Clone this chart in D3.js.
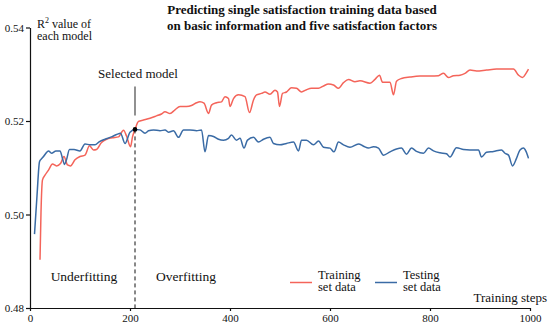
<!DOCTYPE html>
<html>
<head>
<meta charset="utf-8">
<script src="https://cdn.jsdelivr.net/npm/d3@7"></script>
<style>
body { margin: 0; background: #fff; }
svg text { font-family: "Liberation Serif", "Times New Roman", serif; fill: #111; }
</style>
</head>
<body>
<div id="chart"></div>
<script>
// training set curve (red)
const trainingSteps = [20, 22, 25, 30, 37, 45, 53, 61, 68, 75, 81, 90, 100, 110, 119, 127, 133, 143, 153, 165, 177, 187, 193, 201, 205, 210,
    217, 227, 240, 253, 263, 270, 280, 290, 300, 313, 323, 333, 340, 348, 357, 363, 373, 383, 390, 397, 400, 407, 417,
    430, 439, 447, 453, 463, 470, 480, 490, 495, 499, 505, 513, 523, 533, 543, 553, 563, 577, 587, 597, 607, 617, 627, 637,
    650, 660, 680, 690, 699, 705, 720, 727, 733, 743, 760, 780, 800, 817, 827, 837, 847, 860, 870, 880, 893, 913, 933, 947,
    967, 977, 985, 992, 997];
const trainingR2 = [0.4903, 0.5005, 0.5074, 0.5084, 0.5095, 0.5108, 0.5104, 0.5109, 0.5124, 0.5106, 0.5104, 0.5117, 0.5124, 0.5127, 0.5147, 0.5138, 0.5139, 0.5154, 0.5161, 0.5164, 0.5166, 0.5180, 0.5168, 0.5145, 0.5166, 0.5182,
    0.5199, 0.5202, 0.5206, 0.5211, 0.5215, 0.5220, 0.5216, 0.5224, 0.5231, 0.5231, 0.5233, 0.5239, 0.5241, 0.5238, 0.5216, 0.5234, 0.5239, 0.5241, 0.5252, 0.5248, 0.5231, 0.5248, 0.5256,
    0.5252, 0.5218, 0.5245, 0.5256, 0.5259, 0.5262, 0.5257, 0.5266, 0.5262, 0.5231, 0.5259, 0.5262, 0.5271, 0.5270, 0.5262, 0.5267, 0.5270, 0.5270, 0.5275, 0.5279, 0.5277, 0.5270, 0.5282, 0.5289,
    0.5284, 0.5286, 0.5281, 0.5289, 0.5298, 0.5283, 0.5283, 0.5256, 0.5285, 0.5291, 0.5294, 0.5296, 0.5296, 0.5297, 0.5302, 0.5293, 0.5297, 0.5298, 0.5302, 0.5309, 0.5307, 0.5309, 0.5311, 0.5311,
    0.5311, 0.5298, 0.5293, 0.5302, 0.5311];

// testing set curve (blue)
const testingSteps = [9, 14, 19, 22, 27, 37, 43, 52, 60, 65, 69, 73, 79, 88, 100, 110, 120, 130, 139, 150, 163, 173, 181, 190, 200, 210,
    220, 230, 237, 247, 260, 270, 277, 287, 297, 307, 320, 333, 343, 350, 357, 367, 377, 387, 397, 403, 413,
    420, 428, 435, 447, 457, 467, 480, 487, 500, 513, 527, 537, 543, 553, 567, 577, 587, 600, 608, 617, 627, 640,
    657, 667, 677, 687, 697, 707, 720, 733, 743, 753, 763, 773, 787, 797, 807, 820, 833, 840, 853, 867, 880, 897,
    903, 913, 927, 943, 950, 957, 965, 973, 980, 987, 992, 997];
const testingR2 = [0.4958, 0.5040, 0.5113, 0.5118, 0.5124, 0.5136, 0.5131, 0.5136, 0.5136, 0.5120, 0.5107, 0.5117, 0.5139, 0.5139, 0.5136, 0.5151, 0.5149, 0.5149, 0.5156, 0.5161, 0.5166, 0.5171, 0.5174, 0.5152, 0.5176, 0.5182,
    0.5181, 0.5174, 0.5179, 0.5181, 0.5179, 0.5181, 0.5176, 0.5179, 0.5165, 0.5181, 0.5181, 0.5179, 0.5181, 0.5134, 0.5169, 0.5167, 0.5161, 0.5159, 0.5163, 0.5170, 0.5159,
    0.5163, 0.5142, 0.5159, 0.5165, 0.5155, 0.5161, 0.5165, 0.5152, 0.5149, 0.5152, 0.5155, 0.5136, 0.5159, 0.5159, 0.5149, 0.5157, 0.5144, 0.5142, 0.5134, 0.5155, 0.5149, 0.5144,
    0.5151, 0.5146, 0.5142, 0.5145, 0.5142, 0.5127, 0.5134, 0.5140, 0.5142, 0.5129, 0.5142, 0.5135, 0.5131, 0.5142, 0.5136, 0.5132, 0.5130, 0.5123, 0.5143, 0.5139, 0.5138, 0.5138,
    0.5123, 0.5133, 0.5135, 0.5138, 0.5131, 0.5127, 0.5104, 0.5120, 0.5138, 0.5142, 0.5135, 0.5120];

const xTicks = [0, 200, 400, 600, 800, 1000];
const yTicks = [0.48, 0.50, 0.52, 0.54];
const selectedStep = 210;
const selectedR2 = 0.5182;
const seriesColors = { training: "#f4645a", testing: "#3a6ba5" };

const width = 550, height = 328;
const serif = "'Liberation Serif', 'Times New Roman', serif";

const svg = d3.select("#chart")
    .append("svg")
    .attr("width", width)
    .attr("height", height);

const xScale = d3.scaleLinear().domain([0, 1000]).range([30, 530]);
const yScale = d3.scaleLinear().domain([0.48, 0.54]).range([308, 27.5]);

const line = d3.line()
    .x(d => xScale(d[0]))
    .y(d => yScale(d[1]))
    .curve(d3.curveMonotoneX);

const trainingData = trainingSteps.map((s, i) => [s, trainingR2[i]]);
const testingData = testingSteps.map((s, i) => [s, testingR2[i]]);

// axes
const yAxis = svg.append("g")
    .attr("transform", "translate(" + xScale(0) + ",0)")
    .call(d3.axisLeft(yScale).tickValues(yTicks).tickSize(4).tickPadding(2).tickSizeOuter(0).tickFormat(d3.format(".2f")));

const xAxis = svg.append("g")
    .attr("transform", "translate(0," + yScale(0.48) + ")")
    .call(d3.axisBottom(xScale).tickValues(xTicks).tickSize(3).tickPadding(3).tickSizeOuter(0).tickFormat(d3.format("d")));

[xAxis, yAxis].forEach(g => {
    g.attr("font-family", serif);
    g.selectAll("path, line").attr("stroke", "#111").attr("stroke-width", 1.2);
    g.selectAll("text").style("font-size", "11px").style("font-family", serif).attr("fill", "#111");
});

// curves
svg.append("path")
    .datum(trainingData)
    .attr("d", line)
    .attr("fill", "none")
    .attr("stroke", seriesColors.training)
    .attr("stroke-width", 1.5);

svg.append("path")
    .datum(testingData)
    .attr("d", line)
    .attr("fill", "none")
    .attr("stroke", seriesColors.testing)
    .attr("stroke-width", 1.5);

// selected model marker
const sx = xScale(selectedStep), sy = yScale(selectedR2);

svg.append("line")
    .attr("x1", sx).attr("x2", sx)
    .attr("y1", sy).attr("y2", yScale(0.48))
    .attr("stroke", "#111")
    .attr("stroke-width", 1)
    .attr("stroke-dasharray", "4,3");

svg.append("line")
    .attr("x1", sx).attr("x2", sx)
    .attr("y1", sy - 43).attr("y2", sy - 14)
    .attr("stroke", "#555")
    .attr("stroke-width", 1.3);

svg.append("circle")
    .attr("cx", sx).attr("cy", sy)
    .attr("r", 2.3)
    .attr("fill", "#000");

svg.append("text")
    .attr("x", sx + 3).attr("y", 78)
    .attr("text-anchor", "middle")
    .style("font-size", "13px")
    .text("Selected model");

// region labels
svg.append("text")
    .attr("x", 84).attr("y", 281)
    .attr("text-anchor", "middle")
    .style("font-size", "13.5px")
    .text("Underfitting");

svg.append("text")
    .attr("x", 156).attr("y", 281)
    .style("font-size", "13.5px")
    .text("Overfitting");

// title
const title = svg.append("text")
    .attr("text-anchor", "middle")
    .style("font-size", "13px")
    .style("font-weight", "bold");
title.append("tspan").attr("x", 302).attr("y", 14).text("Predicting single satisfaction training data based");
title.append("tspan").attr("x", 302).attr("y", 29.5).text("on basic information and five satisfaction factors");

// y label
const yLabel = svg.append("text").style("font-size", "12px");
const yl1 = yLabel.append("tspan").attr("x", 37).attr("y", 28);
yl1.append("tspan").text("R");
yl1.append("tspan").attr("dy", -5).style("font-size", "8px").text("2");
yl1.append("tspan").attr("dy", 5).text(" value of");
yLabel.append("tspan").attr("x", 37).attr("y", 39.5).text("each model");

// x label
svg.append("text")
    .attr("x", 547).attr("y", 301.5)
    .attr("text-anchor", "end")
    .style("font-size", "13px")
    .text("Training steps");

// legend
const legendItems = [
    { lines: ["Training", "set data"], color: seriesColors.training, x: 290 },
    { lines: ["Testing", "set data"], color: seriesColors.testing, x: 375 }
];
legendItems.forEach(item => {
    svg.append("line")
        .attr("x1", item.x).attr("x2", item.x + 22)
        .attr("y1", 282.5).attr("y2", 282.5)
        .attr("stroke", item.color)
        .attr("stroke-width", 1.5);
    const t = svg.append("text").style("font-size", "12.5px");
    t.append("tspan").attr("x", item.x + 28).attr("y", 278.5).text(item.lines[0]);
    t.append("tspan").attr("x", item.x + 28).attr("y", 290.5).text(item.lines[1]);
});
</script>
</body>
</html>
